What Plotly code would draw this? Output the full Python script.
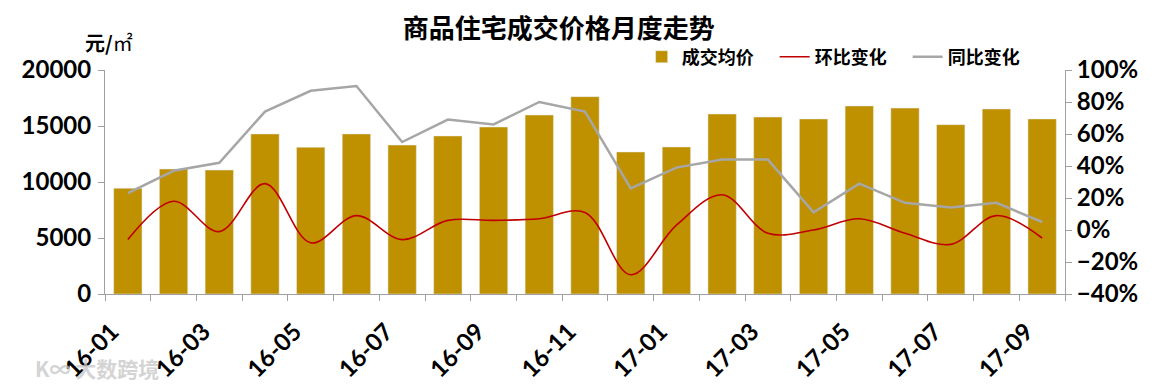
import plotly.graph_objects as go

months = ["16-01","16-02","16-03","16-04","16-05","16-06","16-07","16-08","16-09","16-10","16-11","16-12",
          "17-01","17-02","17-03","17-04","17-05","17-06","17-07","17-08","17-09"]
price = [9440, 11160, 11070, 14290, 13100, 14290, 13300, 14110, 14910, 15980, 17620, 12680,
         13130, 16070, 15800, 15630, 16790, 16600, 15120, 16520, 15630]
mom = [-6, 18, -1, 29, -8, 9, -6, 6, 6, 7, 11, -28, 3, 22, -2, 0, 7, -2, -9, 9, -5]
yoy = [23, 37, 42, 74, 87, 90, 55, 69, 66, 80, 74, 26, 39, 44, 44, 11, 29, 17, 14, 17, 5]
tick_text = [m if i % 2 == 0 else "" for i, m in enumerate(months)]

BAR = "#BF9000"
RED = "#C00000"
GRAY = "#A6A6A6"
AX = "#A0A0A0"
NUMFONT = "Lato, 'Noto Sans', sans-serif"
CJK = "'Noto Sans CJK SC', sans-serif"

fig = go.Figure()
fig.add_trace(go.Bar(x=months, y=price, name="成交均价", marker_color=BAR, yaxis="y"))
fig.add_trace(go.Scatter(x=months, y=mom, name="环比变化", mode="lines", yaxis="y2",
                         line=dict(color=RED, width=1.6, shape="spline", smoothing=1.0)))
fig.add_trace(go.Scatter(x=months, y=yoy, name="同比变化", mode="lines", yaxis="y2",
                         line=dict(color=GRAY, width=2.5)))

# page body has an 8px margin, so the figure is 8px smaller and margins are shifted
fig.update_layout(
    width=1152, height=381,
    margin=dict(l=97, r=95, t=62, b=95, autoexpand=False),
    paper_bgcolor="white", plot_bgcolor="white",
    bargap=0.38,
    showlegend=True,
    legend=dict(orientation="h", x=0.559, y=1.058, xanchor="left", yanchor="middle",
                font=dict(family=CJK, size=18, color="black", weight="bold"), bgcolor="rgba(0,0,0,0)",
                itemwidth=30, tracegroupgap=0, entrywidth=88, entrywidthmode="pixels"),
    title=dict(text="<b>商品住宅成交价格月度走势</b>", x=0.478, xanchor="center", y=0.945, yanchor="middle",
               font=dict(family=CJK, size=26, color="black")),
    xaxis=dict(type="category", tickmode="array", tickvals=months, ticktext=tick_text,
               tickson="boundaries", ticks="outside", ticklen=6, tickcolor=AX,
               showline=True, linecolor=AX, linewidth=1, tickangle=-45, automargin=False,
               tickfont=dict(family=NUMFONT, size=24, color="black", weight="bold"),
               ticklabelstandoff=13, ticklabelshift=-16,
               showgrid=False, range=[-0.5, 20.5]),
    yaxis=dict(range=[0, 20000], dtick=5000, tickformat="d", showgrid=False, zeroline=False,
               showline=True, linecolor=AX, ticks="outside", ticklen=6, tickcolor=AX, automargin=False,
               tickfont=dict(family=NUMFONT, size=24, color="black", weight="bold"), ticklabelstandoff=2),
    yaxis2=dict(range=[-40, 100], dtick=20, ticksuffix="%", overlaying="y", side="right",
                showgrid=False, zeroline=False, showline=True, linecolor=AX, automargin=False,
                ticks="outside", ticklen=6, tickcolor=AX,
                tickfont=dict(family=NUMFONT, size=24, color="black", weight="bold")),
    annotations=[
        dict(text="<b>元/</b>㎡", xref="paper", yref="paper", x=0.004, y=1.125, xanchor="center",
             yanchor="middle", showarrow=False, font=dict(family=CJK, size=20, color="black")),
        dict(text="<b>K∞ 大数跨境</b>", xref="paper", yref="paper", x=-0.075, y=-0.33, xanchor="left",
             yanchor="middle", showarrow=False, font=dict(family=CJK, size=21, color="rgba(200,200,200,0.8)")),
    ],
)

fig.write_html("out.html")
